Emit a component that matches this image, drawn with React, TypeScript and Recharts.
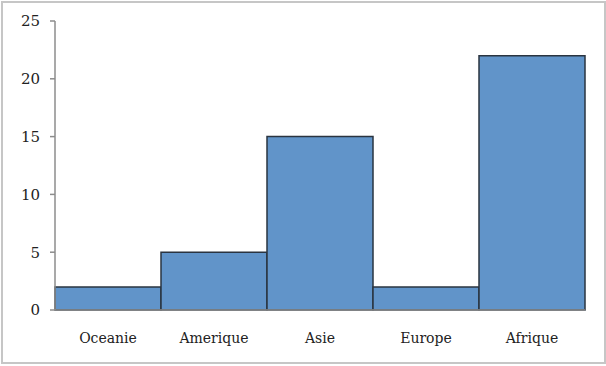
import React from "react";
import { BarChart, Bar, XAxis, YAxis } from "recharts";

const categories = ["Oceanie", "Amerique", "Asie", "Europe", "Afrique"];
const values = [2, 5, 15, 2, 22];
const yTicks = [0, 5, 10, 15, 20, 25];

const data = categories.map((c, i) => ({ name: c, value: values[i] }));

const font = "'DejaVu Serif', 'Liberation Serif', serif";

export default function App() {
  return (
    <div style={{ position: "absolute", left: 0, top: 0, width: 606, height: 366, background: "#fff" }}>
      <div
        style={{
          position: "absolute",
          left: 1,
          top: 1,
          width: 601,
          height: 359,
          border: "2px solid #c6c6c6",
        }}
      />
      <div style={{ position: "absolute", left: 0, top: 0 }}>
        <BarChart
          width={606}
          height={366}
          data={data}
          margin={{ top: 21, right: 21, left: 0, bottom: 0 }}
          barCategoryGap={0}
        >
          <XAxis
            dataKey="name"
            height={56}
            tickLine={false}
            tickMargin={17}
            axisLine={{ stroke: "#8c8c8c", strokeWidth: 1.5 }}
            tick={{ fill: "#222", fontSize: 14, fontFamily: font }}
          />
          <YAxis
            width={55}
            domain={[0, 25]}
            ticks={yTicks}
            interval={0}
            tickSize={5}
            tickMargin={10}
            axisLine={{ stroke: "#8c8c8c", strokeWidth: 1.5 }}
            tickLine={{ stroke: "#8c8c8c", strokeWidth: 1.5 }}
            tick={{ fill: "#222", fontSize: 15, fontFamily: font }}
          />
          <Bar dataKey="value" fill="#6194c9" stroke="#2a3440" strokeWidth={1.5} isAnimationActive={false} />
        </BarChart>
      </div>
    </div>
  );
}
